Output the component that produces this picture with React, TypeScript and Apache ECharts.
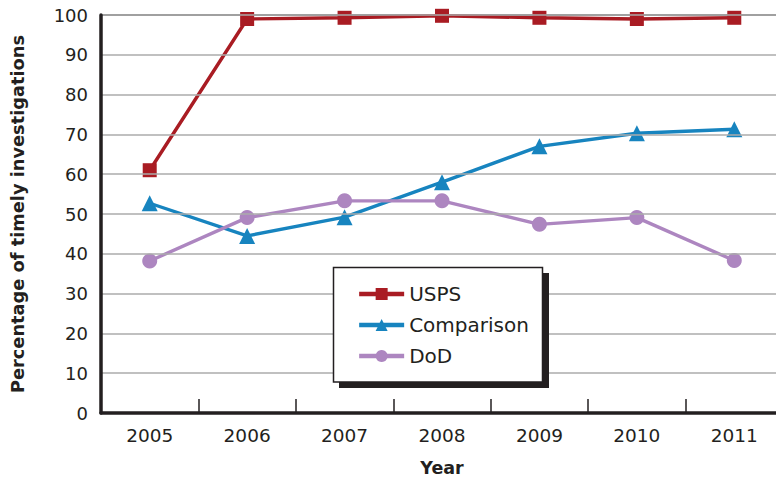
import React, { useEffect, useRef } from "react";
import * as echarts from "echarts";

const years = ["2005", "2006", "2007", "2008", "2009", "2010", "2011"];
const usps = [61, 99, 99.3, 99.8, 99.3, 99, 99.3];
const comparison = [52.7, 44.5, 49.2, 58, 67, 70.3, 71.3];
const dod = [38.2, 49.1, 53.3, 53.3, 47.4, 49.1, 38.3];
const seriesNames = ["USPS", "Comparison", "DoD"];

const INK = "#231f20";
const FONT = "'DejaVu Sans', 'Noto Sans', sans-serif";

export default function App() {
  const ref = useRef<HTMLDivElement>(null);
  useEffect(() => {
    if (!ref.current) return;
    const chart = echarts.init(ref.current, undefined, { renderer: "svg" });
    const mk = (name: string, data: number[], color: string, symbol: string, size: number) => ({
      name,
      type: "line",
      data,
      symbol,
      symbolSize: size,
      showSymbol: true,
      color,
      lineStyle: { color, width: 3.4 },
      itemStyle: { color },
      z: 3,
    });
    chart.setOption({
      animation: false,
      backgroundColor: "#ffffff",
      textStyle: { fontFamily: FONT },
      grid: { left: 101, top: 15, width: 682, height: 398, containLabel: false, outerBoundsMode: "none" },
      xAxis: [
        {
          type: "category",
          data: years,
          boundaryGap: true,
          position: "bottom",
          name: "Year",
          nameLocation: "middle",
          nameGap: 46,
          nameTextStyle: { fontFamily: FONT, fontSize: 17.5, fontWeight: "bold", color: INK, align: "center" },
          axisLine: { lineStyle: { color: INK, width: 3.5 } },
          axisTick: { show: true, inside: true, length: 14, lineStyle: { color: INK, width: 1.5 } },
          axisLabel: { color: INK, fontSize: 18.5, fontFamily: FONT, margin: 13 },
          splitLine: { show: false },
          z: 5,
        },
        {
          type: "category",
          data: years,
          position: "top",
          axisLine: { show: true, lineStyle: { color: "#555", width: 1.5 } },
          axisTick: { show: false },
          axisLabel: { show: false },
          splitLine: { show: false },
        },
      ],
      yAxis: {
        type: "value",
        min: 0,
        max: 100,
        interval: 10,
        name: "Percentage of timely investigations",
        nameLocation: "middle",
        nameGap: 75,
        nameRotate: 90,
        nameTextStyle: { fontFamily: FONT, fontSize: 17.8, fontWeight: "bold", color: INK },
        axisLine: { show: true, lineStyle: { color: INK, width: 3.5 } },
        axisTick: { show: false },
        axisLabel: { color: INK, fontSize: 18, fontFamily: FONT, margin: 13 },
        splitLine: { show: true, lineStyle: { color: "#ababab", width: 1.5 } },
        z: 5,
      },
      legend: {
        data: seriesNames,
        orient: "vertical",
        left: 352,
        top: 279,
        itemWidth: 45,
        itemHeight: 15,
        itemGap: 11,
        z: 100,
        lineStyle: { width: 4.3 },
        textStyle: { color: INK, fontSize: 20, fontFamily: FONT },
      },
      graphic: [
        {
          type: "rect",
          z: 50,
          shape: { x: 339, y: 273, width: 210, height: 115 },
          style: { fill: INK },
        },
        {
          type: "rect",
          z: 51,
          shape: { x: 333.5, y: 267.5, width: 209, height: 114.5 },
          style: { fill: "#ffffff", stroke: INK, lineWidth: 1.5 },
        },
      ],
      series: [
        mk(seriesNames[0], usps, "#a91c23", "rect", 14),
        mk(seriesNames[1], comparison, "#1784bf", "triangle", 16),
        mk(seriesNames[2], dod, "#ad86c0", "circle", 15),
      ],
    });
    return () => chart.dispose();
  }, []);
  return (
    <div
      ref={ref}
      style={{ position: "fixed", left: 0, top: 0, width: 776, height: 478, background: "#fff" }}
    />
  );
}
